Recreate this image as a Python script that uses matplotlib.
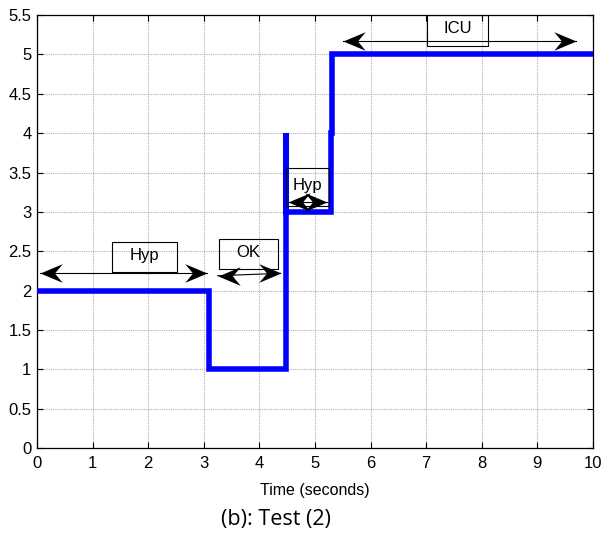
import matplotlib
matplotlib.use('Agg')
import matplotlib.pyplot as plt
from matplotlib.patches import Rectangle
from matplotlib.path import Path

# step signal (state level over time)
time_s = [0, 3.1, 3.1, 4.48, 4.48, 4.48, 5.28, 5.28, 5.31, 5.31, 10]
level = [2, 2, 1, 1, 4, 3, 3, 4, 4, 5, 5]

x_ticks = list(range(0, 11))
y_ticks = [0, 0.5, 1, 1.5, 2, 2.5, 3, 3.5, 4, 4.5, 5, 5.5]
y_tick_labels = ['0', '0.5', '1', '1.5', '2', '2.5', '3', '3.5', '4', '4.5', '5', '5.5']

# boxed labels with double arrows underneath
ann_text = ['Hyp', 'OK', 'Hyp', 'ICU']
ann_box_x = [(1.35, 2.52), (3.27, 4.33), (4.48, 5.25), (7.01, 8.11)]
ann_box_y = [(2.24, 2.62), (2.27, 2.66), (3.07, 3.56), (5.11, 5.50)]
ann_arrow_x = [(0.05, 3.05), (3.25, 4.38), (4.52, 5.22), (5.50, 9.70)]
ann_arrow_y = [(2.23, 2.23), (2.19, 2.22), (3.13, 3.13), (5.17, 5.17)]

# matlab-ish stealth arrow heads, tip sits on the data point
_head = [(0, 0), (-1, 0.42), (-0.65, 0), (-1, -0.42), (0, 0)]
_codes = [Path.MOVETO, Path.LINETO, Path.LINETO, Path.LINETO, Path.CLOSEPOLY]
head_right = Path(_head, _codes)
head_left = Path([(-x, y) for x, y in _head], _codes)

fig = plt.figure(figsize=(6.02, 5.38), dpi=100)
ax = fig.add_axes([0.0615, 0.167, 0.9235, 0.805])

ax.plot(time_s, level, color='#0000ff', lw=4, solid_joinstyle='miter', zorder=3)

for txt, bx, by, axx, ayy in zip(ann_text, ann_box_x, ann_box_y, ann_arrow_x, ann_arrow_y):
    ax.add_patch(Rectangle((bx[0], by[0]), bx[1] - bx[0], by[1] - by[0],
                           fill=False, ec='black', lw=0.8, zorder=4))
    ax.text((bx[0] + bx[1]) / 2, by[0] + 0.55 * (by[1] - by[0]), txt,
            ha='center', va='center', fontsize=12, family='Liberation Sans', zorder=5)
    ax.plot(axx, ayy, color='black', lw=0.8, zorder=5)
    ax.plot(axx[0], ayy[0], marker=head_left, ms=32, color='black', mew=0, zorder=6)
    ax.plot(axx[1], ayy[1], marker=head_right, ms=32, color='black', mew=0, zorder=6)

ax.set_xlim(0, 10)
ax.set_ylim(0, 5.5)
ax.set_xticks(x_ticks)
ax.set_yticks(y_ticks)
ax.set_yticklabels(y_tick_labels)
ax.grid(True, color='#b0b0b0', linestyle=(0, (1, 1)), lw=0.8)
ax.tick_params(direction='in', top=True, right=True, length=4, width=0.8,
               labelsize=12, pad=4)
ax.tick_params(axis='x', pad=6)
for lab in ax.get_xticklabels() + ax.get_yticklabels():
    lab.set_family('Liberation Sans')
for sp in ax.spines.values():
    sp.set_linewidth(0.9)

ax.set_xlabel('Time (seconds)', fontsize=11.5, family='Liberation Sans', labelpad=8)
fig.text(0.458, 0.035, '(b): Test (2)', ha='center', va='center', fontsize=15.5,
         family='Open Sans')

fig.savefig('out.png', dpi=100)
